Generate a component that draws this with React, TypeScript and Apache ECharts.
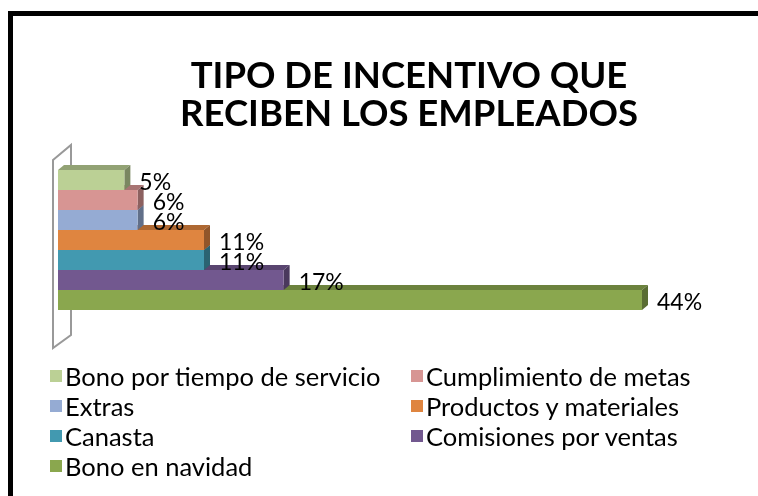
import React, { useEffect, useRef } from "react";
import * as echarts from "echarts";

const titleText = "TIPO DE INCENTIVO QUE\nRECIBEN LOS EMPLEADOS";
const categories = [
  "Bono por tiempo de servicio",
  "Cumplimiento de metas",
  "Extras",
  "Productos y materiales",
  "Canasta",
  "Comisiones por ventas",
  "Bono en navidad",
];
const values = [5, 6, 6, 11, 11, 17, 44];
const colors = ["#BBD095", "#D79593", "#95ABD3", "#DF8540", "#4299B0", "#72588F", "#8AA74E"];
const legendLeft = ["Bono por tiempo de servicio", "Extras", "Canasta", "Bono en navidad"];
const legendRight = ["Cumplimiento de metas", "Productos y materiales", "Comisiones por ventas"];

const FONT = "Lato";

function shade(hex: string, f: number) {
  const n = parseInt(hex.slice(1), 16);
  const r = Math.round(((n >> 16) & 255) * f);
  const g = Math.round(((n >> 8) & 255) * f);
  const b = Math.round((n & 255) * f);
  return `rgb(${r},${g},${b})`;
}

export default function App() {
  const ref = useRef<HTMLDivElement>(null);
  useEffect(() => {
    if (!ref.current) return;
    const chart = echarts.init(ref.current, null, { renderer: "svg" });
    const dx = 6;
    const dy = -5;
    const renderItem = (params: any, api: any) => {
      const idx = params.seriesIndex != null ? 6 - params.seriesIndex : 0;
      const v = api.value(0);
      const c = api.value(1);
      const p0 = api.coord([0, c]);
      const p1 = api.coord([v, c]);
      const h = api.size([0, 1])[1];
      const x0 = p0[0];
      const x1 = p1[0];
      const y0 = p0[1] - h / 2;
      const col = colors[idx];
      return {
        type: "group",
        children: [
          {
            type: "polygon",
            shape: { points: [[x0, y0], [x0 + dx, y0 + dy], [x1 + dx, y0 + dy], [x1, y0]] },
            style: { fill: shade(col, 0.78) },
          },
          {
            type: "polygon",
            shape: { points: [[x1, y0], [x1 + dx, y0 + dy], [x1 + dx, y0 + h + dy], [x1, y0 + h]] },
            style: { fill: shade(col, 0.65) },
          },
          {
            type: "rect",
            shape: { x: x0, y: y0, width: x1 - x0, height: h },
            style: { fill: col },
          },
          {
            type: "text",
            x: x1 + dx + 9,
            y: y0 + h / 2 + 1,
            style: {
              text: v + "%",
              fill: "#000",
              font: `23px ${FONT}`,
              verticalAlign: "middle",
              align: "left",
            },
          },
        ],
      };
    };
    const series: any[] = [];
    for (let i = categories.length - 1; i >= 0; i--) {
      series.push({
        type: "custom",
        name: categories[i],
        itemStyle: { color: colors[i] },
        renderItem,
        clip: false,
        encode: { x: 0, y: 1 },
        data: [[values[i], i]],
      });
    }
    const legendCommon = {
      orient: "vertical",
      icon: "rect",
      itemWidth: 12,
      itemHeight: 12,
      itemGap: 4,
      selectedMode: false,
      textStyle: { fontFamily: FONT, fontSize: 25.5, color: "#000", lineHeight: 26, padding: [0, 0, 0, -2] },
    };
    chart.setOption({
      animation: false,
      title: {
        text: titleText,
        left: 404,
        top: 50,
        textAlign: "center",
        textStyle: { fontFamily: FONT, fontSize: 36.5, fontWeight: "bold", color: "#000", lineHeight: 38 },
      },
      grid: { left: 58, top: 170, height: 140, width: 50 * (584 / 44) },
      xAxis: { type: "value", min: 0, max: 50, show: false },
      yAxis: { type: "category", data: categories, inverse: true, show: false },
      legend: [
        { ...legendCommon, left: 45, top: 358, data: legendLeft },
        { ...legendCommon, left: 406, top: 358, data: legendRight },
      ],
      graphic: [
        {
          type: "rect",
          z: 100,
          shape: { x: 10.5, y: 13.5, width: 900, height: 700 },
          style: { fill: "none", stroke: "#000", lineWidth: 5 },
        },
        {
          type: "polygon",
          z: 0,
          shape: { points: [[53, 160], [71, 145], [71, 335], [53, 348]] },
          style: { fill: "none", stroke: "#999", lineWidth: 2 },
        },
      ],
      series,
    });
    return () => chart.dispose();
  }, []);
  return <div ref={ref} style={{ position: "fixed", left: 0, top: 0, width: 758, height: 496 }} />;
}
